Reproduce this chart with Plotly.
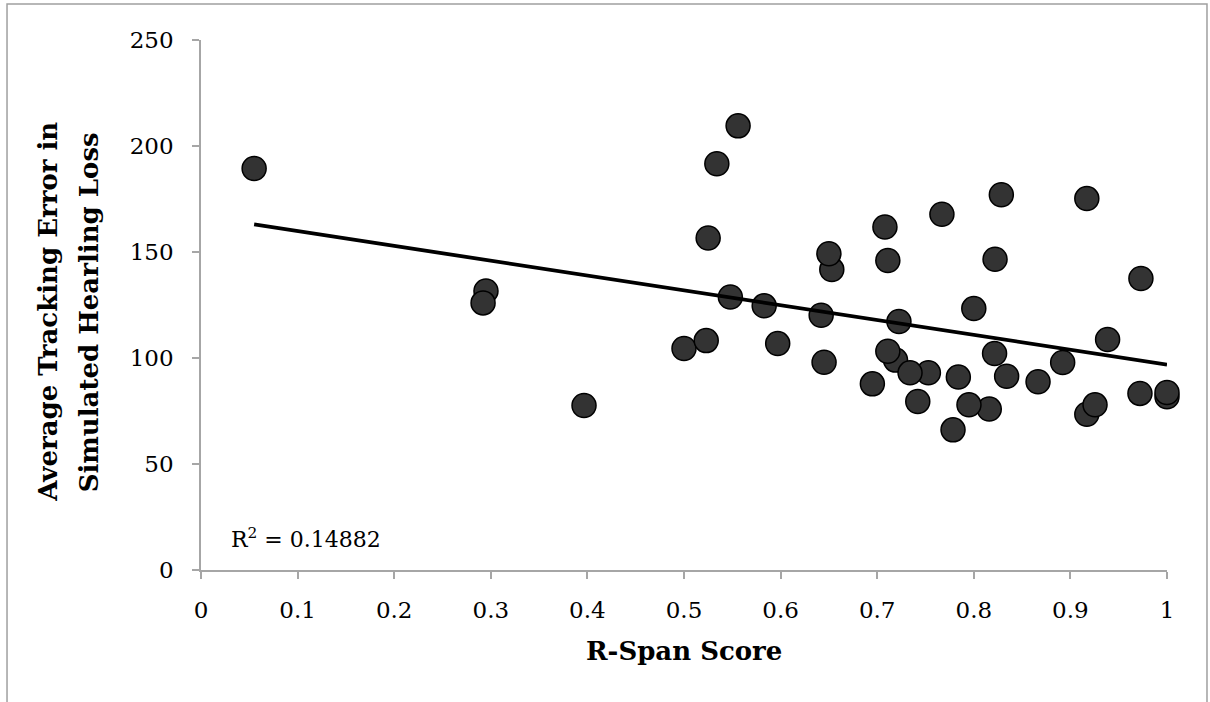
import plotly.graph_objects as go

# R-Span score (x) and average tracking error (y)
rspan_score = [0.055, 0.295, 0.292, 0.3965, 0.556, 0.534, 0.525, 0.708, 0.767, 0.8285,
               0.653, 0.650, 0.711, 0.822, 0.548, 0.583, 0.642, 0.7225, 0.800, 0.500,
               0.523, 0.597, 0.645, 0.719, 0.711, 0.753, 0.734, 0.695, 0.742, 0.784,
               0.7785, 0.816, 0.795, 0.8215, 0.917, 0.973, 0.9385, 0.892, 0.834, 0.8665,
               0.917, 0.9255, 0.972, 1.0, 1.0]
tracking_error = [189.4, 131.6, 126.0, 77.6, 209.5, 191.6, 156.6, 161.8, 167.8, 177.0,
                  141.7, 149.2, 146.0, 146.6, 128.8, 124.6, 120.2, 117.2, 123.3, 104.5,
                  108.2, 106.8, 98.0, 99.0, 103.2, 93.0, 93.0, 87.8, 79.5, 91.0,
                  66.1, 75.9, 77.9, 102.1, 175.2, 137.5, 108.7, 97.9, 91.4, 88.8,
                  73.5, 77.9, 83.3, 81.7, 83.7]

# linear trendline as drawn (slope / intercept) and its R^2 label
trend_slope = -70.0
trend_intercept = 166.9
r_squared_label = "0.14882"

x_ticks = [0, 0.1, 0.2, 0.3, 0.4, 0.5, 0.6, 0.7, 0.8, 0.9, 1]
x_tick_text = ["0", "0.1", "0.2", "0.3", "0.4", "0.5", "0.6", "0.7", "0.8", "0.9", "1"]
y_ticks = [0, 50, 100, 150, 200, 250]

x_title = "R-Span Score"
y_title_lines = ["Average Tracking Error in", "Simulated Hearling Loss"]

trend_x = [min(rspan_score), max(rspan_score)]
trend_y = [trend_intercept + trend_slope * v for v in trend_x]

FONT = "DejaVu Serif"
AXIS_COLOR = "#a6a6a6"

fig = go.Figure()
fig.add_trace(go.Scatter(
    x=rspan_score, y=tracking_error, mode="markers",
    marker=dict(size=24, color="#333333", line=dict(color="#000000", width=1.5)),
    cliponaxis=False, showlegend=False,
))
fig.add_trace(go.Scatter(
    x=trend_x, y=trend_y, mode="lines",
    line=dict(color="#000000", width=3.8),
    cliponaxis=False, showlegend=False,
))

fig.update_layout(
    width=1210, height=702,
    margin=dict(l=201, r=43, t=40, b=132),
    paper_bgcolor="white", plot_bgcolor="white",
    font=dict(family=FONT, size=23, color="#000000"),
    showlegend=False,
)
fig.update_xaxes(
    range=[0, 1], tickvals=x_ticks, ticktext=x_tick_text,
    showgrid=False, zeroline=False, showline=True, linecolor=AXIS_COLOR, linewidth=1.5,
    ticks="outside", ticklen=7, tickwidth=1.5, tickcolor=AXIS_COLOR,
    tickfont=dict(family=FONT, size=23, color="#000000"),
    ticklabelstandoff=12,
)
fig.update_yaxes(
    range=[0, 250], tickvals=y_ticks,
    showgrid=False, zeroline=False, showline=True, linecolor=AXIS_COLOR, linewidth=1.5,
    ticks="outside", ticklen=7, tickwidth=1.5, tickcolor=AXIS_COLOR,
    tickfont=dict(family=FONT, size=23, color="#000000"),
    ticklabelstandoff=14,
)

# outer chart frame
fig.add_shape(type="rect", xref="paper", yref="paper",
              x0=-0.2008, x1=1.0414, y0=-0.3, y1=1.0679,
              line=dict(color="#a0a0a0", width=1.5), fillcolor="rgba(0,0,0,0)", layer="above")

# axis titles
fig.add_annotation(text="<b>" + x_title + "</b>", xref="paper", yref="paper",
                   x=0.5, y=-0.153, xanchor="center", yanchor="middle", showarrow=False,
                   font=dict(family=FONT, size=26, color="#000000"))
fig.add_annotation(text="<b>" + y_title_lines[0] + "</b>", xref="paper", yref="paper",
                   x=-0.1585, y=0.487, xanchor="center", yanchor="middle", showarrow=False,
                   textangle=-90, font=dict(family=FONT, size=26, color="#000000"))
fig.add_annotation(text="<b>" + y_title_lines[1] + "</b>", xref="paper", yref="paper",
                   x=-0.1165, y=0.487, xanchor="center", yanchor="middle", showarrow=False,
                   textangle=-90, font=dict(family=FONT, size=26, color="#000000"))

# R^2 label
fig.add_annotation(text="R<sup>2</sup> = " + r_squared_label, xref="paper", yref="paper",
                   x=0.029, y=0.06, xanchor="left", yanchor="middle", showarrow=False,
                   font=dict(family=FONT, size=22, color="#000000"))

fig.write_html("out.html",
               config={"displayModeBar": False},
               post_script="document.body.style.margin='0px';document.body.style.overflow='hidden';")
